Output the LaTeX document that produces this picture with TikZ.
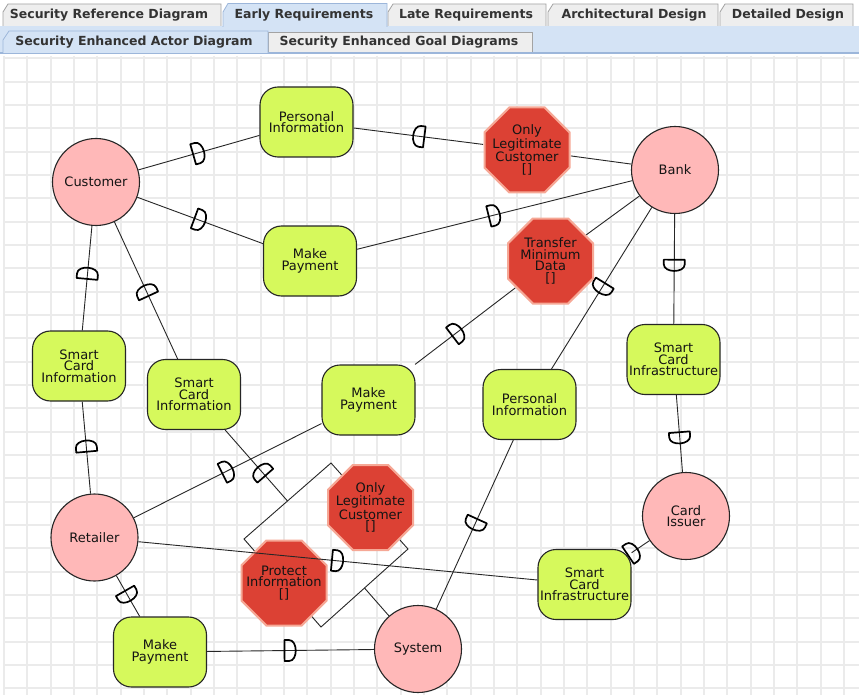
\documentclass[tikz,border=0pt]{standalone}
\usepackage{fontspec}
\setmainfont{DejaVu Sans}
\usetikzlibrary{shapes.geometric,calc}

\definecolor{actorfill}{HTML}{FFB8B8}
\definecolor{goalfill}{HTML}{D6F95C}
\definecolor{softfill}{HTML}{DC4134}
\definecolor{softrim}{HTML}{F6A896}
\definecolor{gridline}{HTML}{EBEBEB}
\definecolor{tabgray}{HTML}{EEEEEE}
\definecolor{tabedge}{HTML}{A3A3A3}
\definecolor{tabblue}{HTML}{D4E3F5}
\definecolor{tabblueedge}{HTML}{9CB6DA}
\definecolor{inkline}{HTML}{262626}
\definecolor{tabink}{HTML}{333333}

\pgfdeclarelayer{gridlayer}
\pgfdeclarelayer{linklayer}
\pgfsetlayers{gridlayer,linklayer,main}

\tikzset{
  lbl/.style={font=\fontsize{13}{11.5}\selectfont, align=center, text=black!92},
  actor/.style={lbl, circle, draw=inkline, line width=1.1pt, fill=actorfill,
    minimum size=87pt, inner sep=0pt},
  goal/.style={lbl, rectangle, rounded corners=18pt, draw=inkline, line width=1.1pt,
    fill=goalfill, minimum width=93pt, minimum height=70pt, inner sep=0pt},
  softgoal/.style={lbl, circle, minimum size=88pt, inner sep=0pt},
  softshape/.style={fill=softfill, draw=softrim, line width=2pt, line join=miter},
  octa/.pic={\path[softshape] (-17.6,-42.5) -- (17.6,-42.5) -- (42.5,-17.6) -- (42.5,17.6)
    -- (17.6,42.5) -- (-17.6,42.5) -- (-42.5,17.6) -- (-42.5,-17.6) -- cycle;},
  link/.style={draw=inkline, line width=0.9pt},
  boundary/.style={draw=inkline, line width=0.9pt},
  dee/.pic={\draw[line width=1.7pt, draw=black, fill=none, line join=round]
    (-6,-10.5) -- (-6,10.5) -- (-1.5,10.5) .. controls (7.5,10.5) and (7.5,-10.5) .. (-1.5,-10.5) -- cycle;},
  dep/.style={pos=#1, sloped, allow upside down},
  tabidle/.style={fill=tabgray, draw=tabedge, line width=0.8pt},
  tabsel/.style={fill=tabblue, draw=tabblueedge, line width=0.8pt},
  tabtext/.style={font=\bfseries\fontsize{12.5}{14}\selectfont, text=tabink},
  gridrule/.style={draw=gridline, line width=1.4pt},
}

\begin{document}
\begin{tikzpicture}[x=1pt,y=-1pt]
\useasboundingbox (0,0) rectangle (859,695);

% ---- canvas and grid ----
\begin{pgfonlayer}{gridlayer}
  \fill[white] (0,0) rectangle (859,695);
  \foreach \i in {0,...,36}
    \draw[gridrule] ({round(4+23.333*\i)},56) -- ({round(4+23.333*\i)},695);
  \foreach \j in {0,...,27}
    \draw[gridrule] (3,{round(58.33+23.333*\j)}) -- (859,{round(58.33+23.333*\j)});
\end{pgfonlayer}

% ---- tab strip ----
\fill[white] (0,0) rectangle (859,55);
\fill[tabblue] (0,26) rectangle (859,53);
\draw[tabblueedge, line width=1.5pt] (0,53) -- (859,53);
\draw[tabidle] (3,26) -- (3,12) -- (8,4) -- (221,4) -- (221,26);
\draw[tabidle] (388,26) -- (388,12) -- (393,4) -- (546,4) -- (546,26);
\draw[tabidle] (548,26) -- (548,12) -- (553,4) -- (718,4) -- (718,26);
\draw[tabidle] (720,26) -- (720,12) -- (725,4) -- (853,4) -- (853,26);
\filldraw[tabsel] (223,27) -- (223,12) -- (228,3.5) -- (387,3.5) -- (387,27);
\fill[tabblue] (224,25) rectangle (386,28);
\node[tabtext] (t1) at (109,15) {Security Reference Diagram};
\node[tabtext] (t2) at (304,15) {Early Requirements};
\node[tabtext] (t3) at (466,15) {Late Requirements};
\node[tabtext] (t4) at (634,15) {Architectural Design};
\node[tabtext] (t5) at (788,15) {Detailed Design};

\draw[tabidle] (268,52) -- (268,32) -- (532,32) -- (532,52);
\filldraw[tabsel] (3,53) -- (3,40) -- (9,31) -- (268,31) -- (268,53);
\node[tabtext] (s1) at (134,42.5) {Security Enhanced Actor Diagram};
\node[tabtext] (s2) at (399,42.5) {Security Enhanced Goal Diagrams};

% ---- actors ----
\node[actor] (cust) at (96,182) {Customer};
\node[actor] (bank) at (675,170) {Bank};
\node[actor] (issuer) at (686,516) {Card\\Issuer};
\node[actor] (retail) at (94.5,537.5) {Retailer};
\node[actor] (system) at (418,649) {System};

% ---- goals ----
\node[goal] (pi1) at (306.5,122) {Personal\\Information};
\node[goal] (mp1) at (310,261) {Make\\Payment};
\node[goal] (sci1) at (79,366) {Smart\\Card\\Information};
\node[goal] (sci2) at (194,394.5) {Smart\\Card\\Information};
\node[goal] (mp2) at (368.5,400) {Make\\Payment};
\node[goal] (pi2) at (529.5,404.5) {Personal\\Information};
\node[goal] (scinf1) at (673.5,359.5) {Smart\\Card\\Infrastructure};
\node[goal] (scinf2) at (584.5,584.5) {Smart\\Card\\Infrastructure};
\node[goal] (mp3) at (160,652) {Make\\Payment};

% ---- security constraints (octagons) ----
\pic at (527,150) {octa};
\pic at (550.5,261) {octa};
\pic at (370.5,507.5) {octa};
\pic at (284,583) {octa};
\node[softgoal] (olc1) at (527,150) {Only\\Legitimate\\Customer\\{[]}};
\node[softgoal] (tmd) at (550.5,261) {Transfer\\Minimum\\Data\\{[]}};
\node[softgoal] (olc2) at (370.5,507.5) {Only\\Legitimate\\Customer\\{[]}};
\node[softgoal] (prot) at (284,583) {Protect\\Information\\{[]}};

% ---- system boundary ----
\coordinate (bT) at (331,463);
\coordinate (bR) at (408,549);
\coordinate (bB) at (321,627);
\coordinate (bL) at (244,539);
\coordinate (bA) at ($(bL)!0.5!(bT)$);
\coordinate (bS) at ($(bR)!0.5!(bB)$);

\begin{pgfonlayer}{linklayer}
  \draw[boundary] (bT) -- (bR) -- (bB) -- (bL) -- cycle;
  \draw[link] (bS) -- (system);

  \draw[link] (cust) -- pic[dep=0.5]{dee} (pi1);
  \draw[link] (olc1) -- pic[dep=0.5]{dee} (pi1);
  \draw[link] (olc1) -- (bank);
  \draw[link] (cust) -- pic[dep=0.5]{dee} (mp1);
  \draw[link] (mp1) -- pic[dep=0.5]{dee} (bank);
  \draw[link] (sci1) -- pic[dep=0.55]{dee} (cust);
  \draw[link] (sci2) -- pic[dep=0.5]{dee} (cust);
  \draw[link] (bank) -- (tmd);
  \draw[link] (mp2) -- pic[dep=0.42]{dee} (tmd);
  \draw[link] (bank) -- pic[dep=0.5]{dee} (pi2);
  \draw[link] (bank) -- pic[dep=0.47]{dee} (scinf1);
  \draw[link] (scinf1) -- pic[dep=0.56]{dee} (issuer);
  \draw[link] (scinf2) -- pic[dep=0.08]{dee} (issuer);
  \draw[link] (retail) -- pic[dep=0.52]{dee} (sci1);
  \draw[link] (retail) -- pic[dep=0.5]{dee} (mp2);
  \draw[link] (bA) -- pic[dep=0.42]{dee} (sci2);
  \draw[link] (retail) -- pic[dep=0.5]{dee} (mp3);
  \draw[link] (mp3) -- pic[dep=0.5]{dee} (system);
  \draw[link] (pi2) -- pic[dep=0.5]{dee} (system);
\end{pgfonlayer}

% this connector runs across the Protect Information octagon
\draw[link] (retail) -- pic[dep=0.5]{dee} (scinf2);
\end{tikzpicture}
\end{document}
